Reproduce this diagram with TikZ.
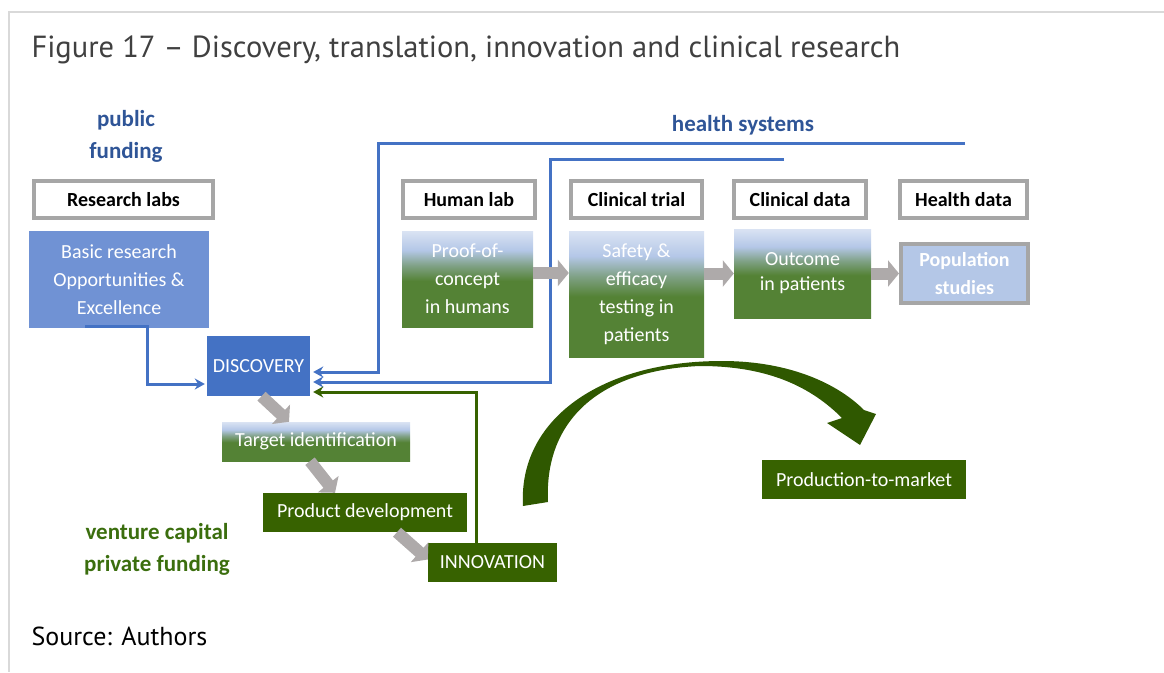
\documentclass[tikz,border=0pt]{standalone}
\usepackage{fontspec}
\setmainfont{Carlito}
\newfontfamily\titlefont{PT Sans}
\usepackage{xcolor}
\usepackage{tikz}
\usetikzlibrary{shapes,arrows.meta,positioning}

\definecolor{labblue}{HTML}{7092D4}
\definecolor{discblue}{HTML}{4472C4}
\definecolor{popblue}{HTML}{B4C7E7}
\definecolor{paleblue}{HTML}{DAE3F3}
\definecolor{midgreen}{HTML}{548235}
\definecolor{darkgreen}{HTML}{376200}
\definecolor{curvegreen}{HTML}{2F5800}
\definecolor{boxgrey}{HTML}{A6A6A6}
\definecolor{arrowgrey}{HTML}{AEAAAA}
\definecolor{framegrey}{HTML}{D9D9D9}
\definecolor{labelblue}{HTML}{2F5597}
\definecolor{labelgreen}{HTML}{3B6E0E}
\definecolor{titlegrey}{HTML}{404040}

\pgfdeclareverticalshading{bluegreen}{100bp}{color(0bp)=(midgreen); color(25bp)=(midgreen); color(49bp)=(midgreen); color(57bp)=(popblue!45!midgreen); color(65bp)=(popblue); color(75bp)=(paleblue); color(100bp)=(paleblue)}

\begin{document}
\begin{tikzpicture}[x=1pt, y=-1pt,
    boxfont/.style={font=\fontsize{20}{28}\selectfont},
    headbox/.style={draw=boxgrey, line width=4pt, fill=white, boxfont, font=\fontsize{20}{28}\selectfont\bfseries, minimum height=37pt, inner sep=0pt},
    stagebox/.style={shading=bluegreen, text=white, align=center, boxfont, inner sep=0pt},
    bluebox/.style={fill=#1, text=white, align=center, boxfont, inner sep=0pt},
    greenbox/.style={fill=darkgreen, text=white, boxfont, minimum height=39pt, inner sep=0pt},
    funding/.style={align=center, font=\fontsize{23}{32}\selectfont\bfseries},
    bluelink/.style={draw=discblue, line width=3pt, -{Stealth[length=10pt,width=11pt]}},
    greenlink/.style={draw=darkgreen, line width=3pt, -{Stealth[length=10pt,width=11pt]}},
    blockarrow/.style={draw=arrowgrey, line width=12pt, -{Triangle[length=11pt,width=26pt]}}]

    \useasboundingbox (0,0) rectangle (1164,672);
    \draw[framegrey, line width=2pt] (1164,12) -- (9,12) -- (9,672);

    \node[anchor=base west, text=titlegrey, font=\titlefont\fontsize{30.5}{34}\selectfont] (title) at (28,57) {Figure 17 – Discovery, translation, innovation and clinical research};
    \node[anchor=base west, font=\titlefont\fontsize{26}{30}\selectfont] (source) at (28,645) {Source: Authors};

    \node[funding, text=labelblue] (public) at (126,136) {public\\funding};
    \node[funding, text=labelblue] (health) at (743,125) {health systems};
    \node[funding, text=labelgreen] (venture) at (157,549) {venture capital\\private funding};

    \node[headbox, minimum width=179pt] (labs) at (123.5,199.5) {Research labs};
    \node[headbox, minimum width=132pt] (human) at (469,199.5) {Human lab};
    \node[headbox, minimum width=131pt] (trial) at (636.5,199.5) {Clinical trial};
    \node[headbox, minimum width=132pt] (cdata) at (800,199.5) {Clinical data};
    \node[headbox, minimum width=127pt] (hdata) at (963.5,199.5) {Health data};

    \node[bluebox=labblue, minimum width=180pt, minimum height=97pt] (basic) at (119,279.5) {Basic research\\Opportunities \&\\Excellence};
    \node[bluebox=discblue, minimum width=103pt, minimum height=60pt] (discovery) at (258.5,366) {DISCOVERY};
    \node[bluebox=popblue, draw=boxgrey, line width=4pt, font=\fontsize{20}{28}\selectfont\bfseries, minimum width=127pt, minimum height=59pt] (pop) at (964.5,273.5) {Population\\studies};

    \node[stagebox, minimum width=131pt, minimum height=96pt] (proof) at (467.5,279) {Proof-of-\\concept\\in humans};
    \node[stagebox, minimum width=135pt, minimum height=126pt] (safety) at (636.5,294) {Safety \&\\efficacy\\testing in\\patients};
    \node[stagebox, minimum width=137pt, minimum height=89pt] (outcome) at (802.5,273.5) {\raisebox{-3pt}{Outcome}\\in patients};
    \node[stagebox, minimum width=188pt, minimum height=39pt] (target) at (316,441.5) {Target identification};

    \node[greenbox, minimum width=204pt] (product) at (365,512.5) {Product\ development};
    \node[greenbox, minimum width=129pt] (innovation) at (492.5,562.5) {INNOVATION};
    \node[greenbox, minimum width=204pt] (market) at (864,479.5) {Production-to-market};

    \coordinate (hsend1) at (965,143);
    \coordinate (hsbend1) at (378,143);
    \coordinate (hsend2) at (784,159);
    \coordinate (hsbend2) at (550,159);

    \draw[bluelink] ([xshift=-34pt,yshift=2pt]basic.south) -- ([xshift=28pt,yshift=2pt]basic.south) |- ([xshift=-2pt,yshift=-18pt]discovery.west);
    \draw[bluelink] (hsend1) -- (hsbend1) |- ([xshift=3pt,yshift=-6pt]discovery.east);
    \draw[bluelink] (hsend2) -- (hsbend2) |- ([xshift=3pt,yshift=-16pt]discovery.east);
    \draw[greenlink] ([xshift=-16pt]innovation.north) |- ([xshift=3pt,yshift=-26pt]discovery.east);

    \draw[blockarrow] ([yshift=6pt]proof.east) -- ([yshift=6pt]proof.east -| safety.west);
    \draw[blockarrow] (safety.east |- outcome.west) -- (outcome.west);
    \draw[blockarrow] (outcome.east) -- (pop.west);
    \draw[blockarrow] ([xshift=3pt]discovery.south) -- ([xshift=-27pt]target.north);
    \draw[blockarrow] ([xshift=-6pt]target.south) -- ([xshift=-30pt]product.north);
    \draw[blockarrow] ([xshift=32pt]product.south) -- ([yshift=3pt]innovation.west);

    \fill[curvegreen] (523,506) .. controls (518,420) and (600,361) .. (722,361)
        .. controls (790,361) and (838,384) .. (864,410) -- (876,414) -- (860,445)
        -- (827,423) -- (842,418) .. controls (812,388) and (770,366) .. (700,366)
        .. controls (600,370) and (544,420) .. (548,502) -- cycle;
\end{tikzpicture}
\end{document}
